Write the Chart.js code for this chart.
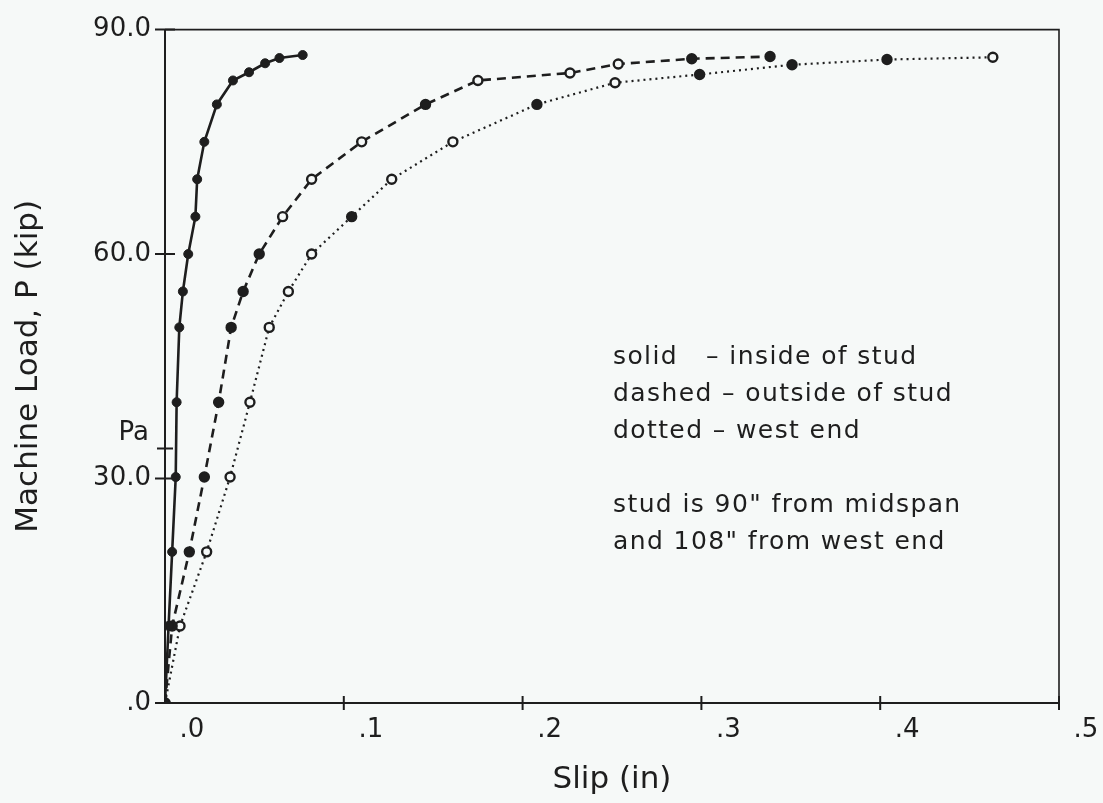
<!DOCTYPE html>
<html>
<head>
<meta charset="utf-8">
<title>Machine Load vs Slip</title>
<script src="https://cdn.jsdelivr.net/npm/chart.js@4.4.1/dist/chart.umd.min.js"></script>
<style>
  html, body { margin: 0; padding: 0; background: #f6f9f8; overflow: hidden; }
  #wrap { width: 1103px; height: 803px; }
</style>
</head>
<body>
<div id="wrap"><canvas id="chart" width="1103" height="803"></canvas></div>
<script>
// slip (in) / machine load (kip)
const solidSlip = [0, 0.002, 0.004, 0.006, 0.0065, 0.008, 0.010, 0.013, 0.017, 0.018, 0.022, 0.029, 0.038, 0.047, 0.056, 0.064, 0.077];
const solidLoad = [0, 10.3, 20.2, 30.2, 40.2, 50.2, 55, 60, 65, 70, 75, 80, 83.2, 84.3, 85.5, 86.2, 86.6];

const dashedSlip = [0, 0.004, 0.0136, 0.022, 0.030, 0.037, 0.0437, 0.0527, 0.0658, 0.082, 0.110, 0.1457, 0.175, 0.2265, 0.2535, 0.2946, 0.3384];
const dashedLoad = [0, 10.3, 20.2, 30.2, 40.2, 50.2, 55, 60, 65, 70, 75, 80, 83.2, 84.2, 85.4, 86.1, 86.4];

const dottedSlip = [0, 0.0084, 0.0233, 0.0364, 0.0475, 0.0583, 0.069, 0.082, 0.1044, 0.1268, 0.161, 0.208, 0.2517, 0.299, 0.3507, 0.4038, 0.463];
const dottedLoad = [0, 10.3, 20.2, 30.2, 40.2, 50.2, 55, 60, 65, 70, 75, 80, 82.9, 84, 85.3, 86, 86.3];

const xTicks = [0, 0.1, 0.2, 0.3, 0.4, 0.5];
const yTicks = [0, 30, 60, 90];
const paLoad = 34;

const noteLines = [
  "solid   \u2013 inside of stud",
  "dashed \u2013 outside of stud",
  "dotted \u2013 west end",
  "",
  "stud is 90\" from midspan",
  "and 108\" from west end"
];

const INK = "#1e1e1e";
const PAPER = "#f6f9f8";
const FONT = "'DejaVu Sans', sans-serif";

// which markers are drawn hollow / solid in the scan
const dashedOpen = [8, 9, 10, 12, 13, 14];
const dottedFilled = [0, 8, 11, 13, 14, 15];

function pts(xs, ys) {
  return xs.map((v, i) => ({ x: v, y: ys[i] }));
}

const fmtX = v => v.toFixed(1).replace(/^0/, "");
const fmtY = v => (v === 0 ? ".0" : v.toFixed(1));

const framePlugin = {
  id: "frame",
  beforeDatasetsDraw(chart) {
    const { ctx, chartArea: a, scales: { x, y } } = chart;
    ctx.save();
    ctx.strokeStyle = INK;
    ctx.lineWidth = 1.6;
    ctx.beginPath();
    ctx.moveTo(a.left, a.top);
    ctx.lineTo(a.right, a.top);
    ctx.lineTo(a.right, a.bottom);
    ctx.stroke();

    // tick marks crossing the axes
    ctx.lineWidth = 2;
    ctx.beginPath();
    x.ticks.forEach(t => {
      if (t.value === 0) return;
      const px = x.getPixelForValue(t.value);
      ctx.moveTo(px, a.bottom - 7);
      ctx.lineTo(px, a.bottom + 7);
    });
    y.ticks.forEach(t => {
      const py = y.getPixelForValue(t.value);
      ctx.moveTo(a.left - 10, py);
      ctx.lineTo(a.left + 10, py);
    });
    const pa = y.getPixelForValue(paLoad);
    ctx.moveTo(a.left - 8, pa);
    ctx.lineTo(a.left + 8, pa);
    ctx.stroke();

    ctx.fillStyle = INK;
    ctx.font = "26px " + FONT;
    ctx.textAlign = "right";
    ctx.textBaseline = "middle";
    ctx.fillText("Pa", a.left - 16, pa - 15);
    ctx.restore();
  },
  afterDatasetsDraw(chart) {
    const { ctx, chartArea: a } = chart;
    ctx.save();
    ctx.fillStyle = INK;
    ctx.font = "25px " + FONT;
    ctx.letterSpacing = "1.4px";
    ctx.textAlign = "left";
    ctx.textBaseline = "alphabetic";
    const left = a.left + 448;
    let base = a.top + 334;
    noteLines.forEach(line => {
      if (line) ctx.fillText(line, left, base);
      base += 37;
    });
    ctx.restore();
  }
};

const ctx = document.getElementById("chart").getContext("2d");

new Chart(ctx, {
  type: "scatter",
  data: {
    datasets: [
      {
        label: "solid - inside of stud",
        data: pts(solidSlip, solidLoad),
        showLine: true,
        borderColor: INK,
        borderWidth: 2.6,
        pointRadius: 4.5,
        pointBorderWidth: 1,
        pointBackgroundColor: INK,
        pointBorderColor: INK
      },
      {
        label: "dashed - outside of stud",
        data: pts(dashedSlip, dashedLoad),
        showLine: true,
        borderColor: INK,
        borderWidth: 2.6,
        borderDash: [9, 6],
        pointRadius: 4.5,
        pointBorderWidth: 2.4,
        pointBackgroundColor: c => (dashedOpen.includes(c.dataIndex) ? PAPER : INK),
        pointBorderColor: INK
      },
      {
        label: "dotted - west end",
        data: pts(dottedSlip, dottedLoad),
        showLine: true,
        borderColor: INK,
        borderWidth: 2.2,
        borderDash: [2, 4],
        pointRadius: 4.5,
        pointBorderWidth: 2.4,
        pointBackgroundColor: c => (dottedFilled.includes(c.dataIndex) ? INK : PAPER),
        pointBorderColor: INK
      }
    ]
  },
  options: {
    responsive: false,
    animation: false,
    layout: { padding: { top: 28, right: 44, bottom: 0, left: 0 } },
    plugins: {
      legend: { display: false },
      tooltip: { enabled: false }
    },
    elements: { line: { tension: 0 } },
    scales: {
      x: {
        type: "linear",
        min: 0,
        max: 0.5,
        afterBuildTicks: s => { s.ticks = xTicks.map(v => ({ value: v })); },
        afterFit: s => { s.height = 100; },
        grid: { display: false, drawTicks: false },
        border: { display: true, color: INK, width: 2 },
        ticks: {
          callback: v => fmtX(v),
          color: INK,
          font: { family: FONT, size: 26 },
          padding: 12,
          labelOffset: 27,
          maxRotation: 0,
          autoSkip: false
        },
        title: {
          display: true,
          text: "Slip (in)",
          color: INK,
          font: { family: FONT, size: 31 },
          padding: { top: 0, bottom: 4 }
        }
      },
      y: {
        type: "linear",
        min: 0,
        max: 90,
        afterBuildTicks: s => { s.ticks = yTicks.map(v => ({ value: v })); },
        afterFit: s => { s.width = 165; },
        grid: { display: false, drawTicks: false },
        border: { display: true, color: INK, width: 2 },
        ticks: {
          callback: v => fmtY(v),
          color: INK,
          font: { family: FONT, size: 26 },
          padding: 14,
          autoSkip: false
        },
        title: {
          display: true,
          text: "Machine Load, P (kip)",
          color: INK,
          font: { family: FONT, size: 31 },
          padding: { top: 10, bottom: 0 }
        }
      }
    }
  },
  plugins: [framePlugin]
});
</script>
</body>
</html>
